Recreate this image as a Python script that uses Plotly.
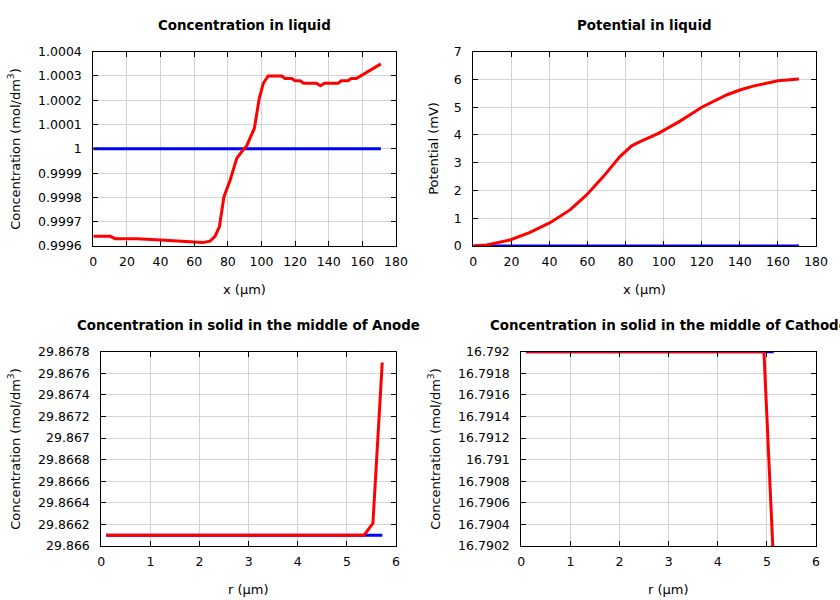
import plotly.graph_objects as go

# ---- data ----
liq_x_red = [0, 10, 13, 26, 40, 57.5, 65, 69.4, 72.4, 75, 77.7, 81.3, 85.3, 88.2, 91.2, 95.8, 97.1, 98.7,
             101.1, 104, 112, 114, 118, 120, 123, 125, 132.7, 135, 137.5, 145.5, 147.5, 151.4, 153.4, 156.4, 171]
liq_c_red = [0.99964, 0.99964, 0.99963, 0.99963, 0.999625, 0.999616, 0.999614, 0.99962, 0.99964, 0.99968,
             0.999803, 0.99987, 0.999961, 0.999988, 1.000012, 1.000085, 1.000146, 1.000208, 1.00027, 1.0003,
             1.0003, 1.00029, 1.00029, 1.00028, 1.00028, 1.00027, 1.00027, 1.00026, 1.00027, 1.00027, 1.00028,
             1.00028, 1.00029, 1.00029, 1.00035]
liq_x_blue = [0, 171]
liq_c_blue = [1.0, 1.0]

pot_x_red = [0, 7, 19.3, 29.8, 40.3, 50.8, 59.5, 68.3, 77, 83.2, 87.6, 97, 108.6, 120, 133, 140, 147, 160, 171]
pot_v_red = [0, 0.036, 0.216, 0.49, 0.84, 1.30, 1.84, 2.50, 3.22, 3.61, 3.76, 4.05, 4.5, 5.0, 5.44, 5.62,
             5.76, 5.95, 6.02]
pot_x_blue = [0, 171]
pot_v_blue = [0, 0]

an_r_red = [0.1, 5.35, 5.53, 5.72]
an_c_red = [29.8661, 29.8661, 29.86621, 29.8677]
an_r_blue = [0.1, 5.72]
an_c_blue = [29.8661, 29.8661]

ca_r_red = [0.1, 4.94, 5.14]
ca_c_red = [16.792, 16.792, 16.7900]
ca_r_blue = [0.1, 5.14]
ca_c_blue = [16.792, 16.792]

liq_ticks = [0.9996, 0.9997, 0.9998, 0.9999, 1.0, 1.0001, 1.0002, 1.0003, 1.0004]
liq_ticktext = ["0.9996", "0.9997", "0.9998", "0.9999", "1", "1.0001", "1.0002", "1.0003", "1.0004"]
an_ticks = [29.866, 29.8662, 29.8664, 29.8666, 29.8668, 29.867, 29.8672, 29.8674, 29.8676, 29.8678]
an_ticktext = ["29.866", "29.8662", "29.8664", "29.8666", "29.8668", "29.867", "29.8672", "29.8674",
               "29.8676", "29.8678"]
ca_ticks = [16.7902, 16.7904, 16.7906, 16.7908, 16.791, 16.7912, 16.7914, 16.7916, 16.7918, 16.792]
ca_ticktext = ["16.7902", "16.7904", "16.7906", "16.7908", "16.791", "16.7912", "16.7914", "16.7916",
               "16.7918", "16.792"]

titles = ["Concentration in liquid", "Potential in liquid",
          "Concentration in solid in the middle of Anode", "Concentration in solid in the middle of Cathode"]

W, H = 840, 600
FONT = "DejaVu Sans"
RED, BLUE = "#ff0000", "#0000ff"

fig = go.Figure()

def add(x, y, color, xa, ya):
    fig.add_trace(go.Scatter(x=x, y=y, mode="lines", line=dict(color=color, width=3),
                             xaxis=xa, yaxis=ya, showlegend=False, hoverinfo="skip"))

add(liq_x_blue, liq_c_blue, BLUE, "x", "y")
add(liq_x_red, liq_c_red, RED, "x", "y")
add(pot_x_blue, pot_v_blue, BLUE, "x2", "y2")
add(pot_x_red, pot_v_red, RED, "x2", "y2")
add(an_r_blue, an_c_blue, BLUE, "x3", "y3")
add(an_r_red, an_c_red, RED, "x3", "y3")
add(ca_r_blue, ca_c_blue, BLUE, "x4", "y4")
add(ca_r_red, ca_c_red, RED, "x4", "y4")

# plot areas in pixels (left, right, top, bottom)
boxes = [(93.3, 396, 51.7, 246), (473.3, 816, 51.7, 246), (101.3, 396, 351.7, 546), (521.3, 816, 351.7, 546)]

common = dict(showline=True, linecolor="black", linewidth=1, mirror="ticks", ticks="inside",
              ticklen=5, tickcolor="black", showgrid=True, gridcolor="#d4d4d4", gridwidth=1,
              zeroline=False, automargin=False, tickfont=dict(family=FONT, size=12.5, color="black"))

xcfg = [dict(range=[0, 180], dtick=20, tick0=0),
        dict(range=[0, 180], dtick=20, tick0=0),
        dict(range=[0, 6], dtick=1, tick0=0),
        dict(range=[0, 6], dtick=1, tick0=0)]
ycfg = [dict(range=[0.9996, 1.0004], tickmode="array", tickvals=liq_ticks, ticktext=liq_ticktext),
        dict(range=[0, 7], dtick=1, tick0=0),
        dict(range=[29.866, 29.8678], tickmode="array", tickvals=an_ticks, ticktext=an_ticktext),
        dict(range=[16.7902, 16.792], tickmode="array", tickvals=ca_ticks, ticktext=ca_ticktext)]

layout = dict(width=W, height=H, margin=dict(l=0, r=0, t=0, b=0, autoexpand=False), paper_bgcolor="white",
              plot_bgcolor="white", font=dict(family=FONT, size=13, color="black"), showlegend=False)

annotations = []
xlabels = ["x (µm)", "x (µm)", "r (µm)", "r (µm)"]
ylabels = ["Concentration (mol/dm<sup>3</sup>)", "Potential (mV)",
           "Concentration (mol/dm<sup>3</sup>)", "Concentration (mol/dm<sup>3</sup>)"]
ylab_x = [14, 434, 14, 434]
for i, (l, r, t, b) in enumerate(boxes):
    sx = "" if i == 0 else str(i + 1)
    xd = [l / W, r / W]
    yd = [1 - b / H, 1 - t / H]
    layout["xaxis" + sx] = dict(domain=xd, anchor="y" + sx, ticklabelstandoff=4, **xcfg[i], **common)
    layout["yaxis" + sx] = dict(domain=yd, anchor="x" + sx, ticklabelstandoff=8, **ycfg[i], **common)
    cx = (l + r) / 2
    annotations.append(dict(text="<b>" + titles[i] + "</b>", x=cx / W, y=1 - (t - 26) / H,
                            xref="paper", yref="paper", showarrow=False, xanchor="center", yanchor="middle",
                            font=dict(family=FONT, size=13.4, color="black")))
    annotations.append(dict(text=xlabels[i], x=cx / W, y=1 - (b + 43) / H,
                            xref="paper", yref="paper", showarrow=False, xanchor="center", yanchor="middle",
                            font=dict(family=FONT, size=13, color="black")))
    annotations.append(dict(text=ylabels[i], x=ylab_x[i] / W, y=1 - ((t + b) / 2) / H, textangle=-90,
                            xref="paper", yref="paper", showarrow=False, xanchor="center", yanchor="middle",
                            font=dict(family=FONT, size=13, color="black")))
layout["annotations"] = annotations

fig.update_layout(**layout)
fig.write_html("out.html", config={"displayModeBar": False},
               post_script="document.body.style.margin='0';")
